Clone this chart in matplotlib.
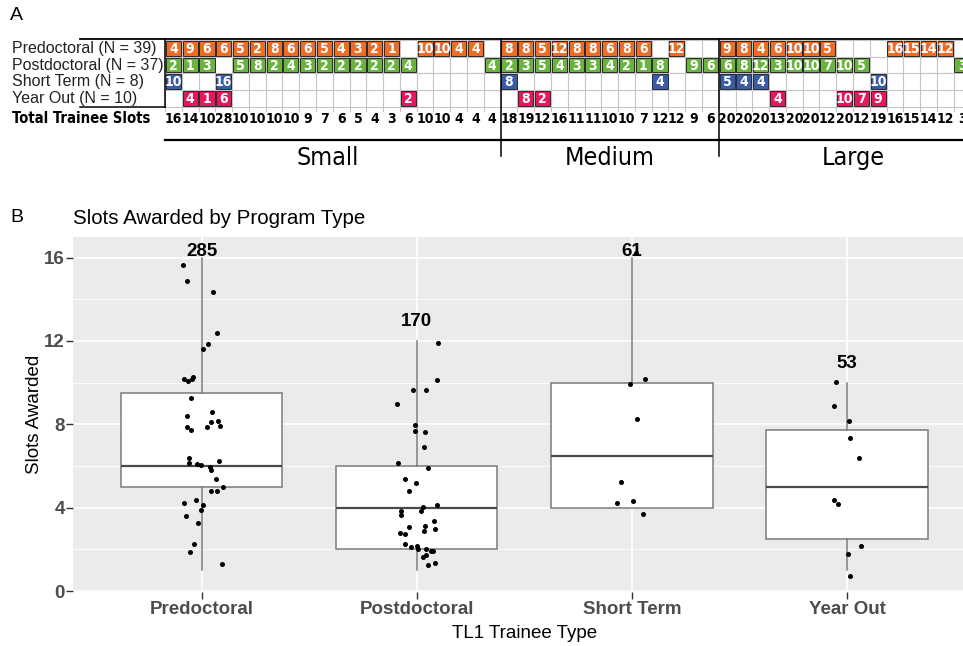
import matplotlib
matplotlib.use("Agg")
import matplotlib.pyplot as plt
from matplotlib.patches import Rectangle

# ---- panel A data: slots per program, one column per program ----
pre_small = [4, 9, 6, 6, 5, 2, 8, 6, 6, 5, 4, 3, 2, 1, 0, 10, 10, 4, 4, 0]
post_small = [2, 1, 3, 0, 5, 8, 2, 4, 3, 2, 2, 2, 2, 2, 4, 0, 0, 0, 0, 4]
short_small = [10, 0, 0, 16, 0, 0, 0, 0, 0, 0, 0, 0, 0, 0, 0, 0, 0, 0, 0, 0]
yo_small = [0, 4, 1, 6, 0, 0, 0, 0, 0, 0, 0, 0, 0, 0, 2, 0, 0, 0, 0, 0]

pre_med = [8, 8, 5, 12, 8, 8, 6, 8, 6, 0, 12, 0, 0]
post_med = [2, 3, 5, 4, 3, 3, 4, 2, 1, 8, 0, 9, 6]
short_med = [8, 0, 0, 0, 0, 0, 0, 0, 0, 4, 0, 0, 0]
yo_med = [0, 8, 2, 0, 0, 0, 0, 0, 0, 0, 0, 0, 0]

pre_large = [9, 8, 4, 6, 10, 10, 5, 0, 0, 0, 16, 15, 14, 12, 0]
post_large = [6, 8, 12, 3, 10, 10, 7, 10, 5, 0, 0, 0, 0, 0, 3]
short_large = [5, 4, 4, 0, 0, 0, 0, 0, 0, 10, 0, 0, 0, 0, 0]
yo_large = [0, 0, 0, 4, 0, 0, 0, 10, 7, 9, 0, 0, 0, 0, 0]

groups = ["Small", "Medium", "Large"]
row_labels = ["Predoctoral (N = 39)", "Postdoctoral (N = 37)",
              "Short Term (N = 8)", "Year Out (N = 10)"]
row_colors = ["#F26B21", "#6BB33F", "#3A5CA8", "#E5185C"]

# ---- panel B: jittered points as they sit in the picture ----
types = ["Predoctoral", "Postdoctoral", "Short Term", "Year Out"]
pre_jx = [-0.086, -0.067, 0.051, 0.073, 0.031, 0.005, -0.081, -0.062, -0.047, -0.039,
          -0.050, -0.067, 0.046, 0.043, 0.077, 0.085, 0.023, -0.068, -0.050,
          -0.058, -0.058, -0.020, -0.003, 0.082, 0.039, 0.043, 0.065, 0.099, 0.043,
          0.070, -0.081, -0.025, 0.006, -0.003, -0.072, -0.017, -0.034, -0.054, 0.096]
pre_jy = [15.62, 14.88, 14.34, 12.38, 11.85, 11.61, 10.16, 10.08, 10.19, 10.27,
          9.27, 8.39, 8.61, 8.12, 8.17, 7.90, 7.87, 7.87, 7.74,
          6.40, 6.14, 6.11, 6.05, 6.24, 5.93, 5.82, 5.36, 5.01, 4.82,
          4.79, 4.24, 4.35, 4.13, 3.89, 3.59, 3.27, 2.25, 1.87, 1.30]
post_jx = [0.099, 0.094, -0.020, 0.042, -0.094, -0.009, -0.009, 0.039, 0.034,
           -0.088, 0.054, -0.054, -0.006, -0.036, 0.094, -0.073, -0.074, 0.020, 0.030,
           0.080, -0.036, 0.036, 0.033, 0.084, -0.078, -0.057,
           -0.057, -0.028, -0.001, 0.005, 0.042, 0.065, 0.073, 0.042, 0.029, 0.054, 0.084]
post_jy = [11.89, 10.14, 9.65, 9.65, 8.97, 7.96, 7.66, 7.63, 6.89,
           6.16, 5.90, 5.39, 5.17, 4.82, 4.13, 3.86, 3.67, 3.86, 4.02,
           3.37, 3.05, 3.13, 2.90, 2.97, 2.79, 2.75,
           2.25, 2.12, 2.14, 2.03, 2.03, 1.93, 1.93, 1.71, 1.63, 1.25, 1.33]
short_jx = [0.020, 0.063, -0.011, 0.026, -0.051, -0.070, 0.005, 0.051]
short_jy = [16.20, 10.16, 9.94, 8.25, 5.25, 4.21, 4.32, 3.70]
yo_jx = [-0.051, -0.062, 0.009, 0.016, 0.058, -0.062, -0.040, 0.065, 0.005, 0.016]
yo_jy = [10.03, 8.89, 8.17, 7.32, 6.40, 4.37, 4.18, 2.17, 1.76, 0.70]
label_y = [16.27, 12.92, 16.27, 10.93]

rows = [pre_small + pre_med + pre_large,
        post_small + post_med + post_large,
        short_small + short_med + short_large,
        yo_small + yo_med + yo_large]
group_sizes = [len(pre_small), len(pre_med), len(pre_large)]
ncol = len(rows[0])
totals = [sum(r[c] for r in rows) for c in range(ncol)]

cond = dict(family="DejaVu Sans", fontstretch="condensed")
arial = ["Liberation Sans", "DejaVu Sans"]

fig = plt.figure(figsize=(9.63, 6.46), dpi=100)

# ---------------- panel A ----------------
CW, RH = 16.78, 16.67          # pixel size of one cell
top_h = 190
axA = fig.add_axes([0, 1 - top_h / 646, 1, top_h / 646])
axA.set_xlim(-165 / CW, (963 - 165) / CW)
axA.set_ylim((top_h - 40) / RH, -40 / RH)
axA.axis("off")

for c in range(ncol + 1):
    axA.plot([c, c], [0, 4.25], color="#C4C4C4", lw=0.8, zorder=1)
for r in range(5):
    axA.plot([0, ncol], [r, r], color="#C4C4C4", lw=0.8, zorder=1)

for r, row in enumerate(rows):
    for c, v in enumerate(row):
        if v:
            axA.add_patch(Rectangle((c + 0.05, r + 0.06), 0.9, 0.88,
                                    facecolor=row_colors[r], edgecolor="#2a2a2a",
                                    lw=0.7, zorder=2))
            axA.text(c + 0.5, r + 0.53, str(v), ha="center", va="center",
                     color="white", fontsize=10, fontweight="bold",
                     zorder=3, **cond)
    axA.text(-9.12, r + 0.5, row_labels[r], ha="left", va="center",
             fontsize=11.5, family=arial, color="#222222", zorder=1)

left_x = -85 / CW
axA.plot([left_x, ncol], [-0.06, -0.06], color="black", lw=1.3, zorder=4)
axA.plot([left_x, 0], [4, 4], color="black", lw=1.1, zorder=4)
axA.plot([0, 0], [-0.06, 4], color="black", lw=1.1, zorder=4)

axA.text(-9.12, 4.72, "Total Trainee Slots", ha="left", va="center",
         fontsize=10.6, fontweight="bold", **cond)
for c, t in enumerate(totals):
    axA.text(c + 0.5, 4.72, str(t), ha="center", va="center",
             fontsize=10, fontweight="bold", **cond)

axA.plot([0, ncol], [6.0, 6.0], color="black", lw=1.6)
edges = [0]
for g in group_sizes:
    edges.append(edges[-1] + g)
for e in edges[1:-1]:
    axA.plot([e, e], [-0.06, 6.95], color="black", lw=1.1)
label_shift = [-0.3, 0, 0.5]
for i, g in enumerate(groups):
    axA.text((edges[i] + edges[i + 1]) / 2 + label_shift[i], 7.1, g,
             ha="center", va="center", fontsize=18, **cond)

fig.text(10 / 963, 1 - 15 / 646, "A", fontsize=14, family=arial, va="center")

# ---------------- panel B ----------------
axB = fig.add_axes([72.7 / 963, (646 - 591.7) / 646, (976 - 72.7) / 963, 355 / 646])
axB.set_facecolor("#EBEBEB")

values = [[v for v in row if v] for row in rows]
axB.boxplot(values, positions=[1, 2, 3, 4], widths=0.75, whis=1.5,
            showfliers=False, showcaps=False, patch_artist=True, manage_ticks=False,
            boxprops=dict(facecolor="white", edgecolor="#7A7A7A", lw=1.1),
            whiskerprops=dict(color="#7A7A7A", lw=1.1),
            medianprops=dict(color="#4A4A4A", lw=1.6), zorder=2)

jit = [(pre_jx, pre_jy), (post_jx, post_jy), (short_jx, short_jy), (yo_jx, yo_jy)]
for i, (jx, jy) in enumerate(jit):
    axB.scatter([i + 1 + d for d in jx], jy, s=13, color="black", zorder=3, lw=0)
    axB.text(i + 1, label_y[i], str(sum(values[i])), ha="center", va="center",
             fontsize=13.5, fontweight="bold", family=arial, zorder=4)

axB.set_xlim(0.4, 4.6)
axB.set_ylim(-0.03, 17.0)
for s in axB.spines.values():
    s.set_visible(False)
axB.set_yticks([0, 4, 8, 12, 16])
axB.set_yticks([2, 6, 10, 14], minor=True)
axB.set_xticks([1, 2, 3, 4], types)
axB.grid(True, which="major", color="white", lw=1.2)
axB.grid(True, which="minor", axis="y", color="white", lw=0.6)
axB.set_axisbelow(True)
axB.tick_params(which="minor", length=0)
axB.tick_params(which="major", length=5, width=1, color="#333333", pad=2)
axB.tick_params(axis="y", which="major", pad=0.5)

for lab in axB.get_xticklabels() + axB.get_yticklabels():
    lab.set_fontsize(13.5)
    lab.set_fontweight("bold")
    lab.set_color("#4D4D4D")
    lab.set_family(arial)
axB.set_xlabel("TL1 Trainee Type", fontsize=13.5, family=arial, labelpad=5)
axB.set_ylabel("Slots Awarded", fontsize=13.5, family=arial, labelpad=1)

fig.text(73 / 963, 1 - 218 / 646, "Slots Awarded by Program Type",
         fontsize=14.8, family=arial, va="center")
fig.text(10 / 963, 1 - 218 / 646, "B", fontsize=14, family=arial, va="center")

fig.savefig("out.png", dpi=100)
